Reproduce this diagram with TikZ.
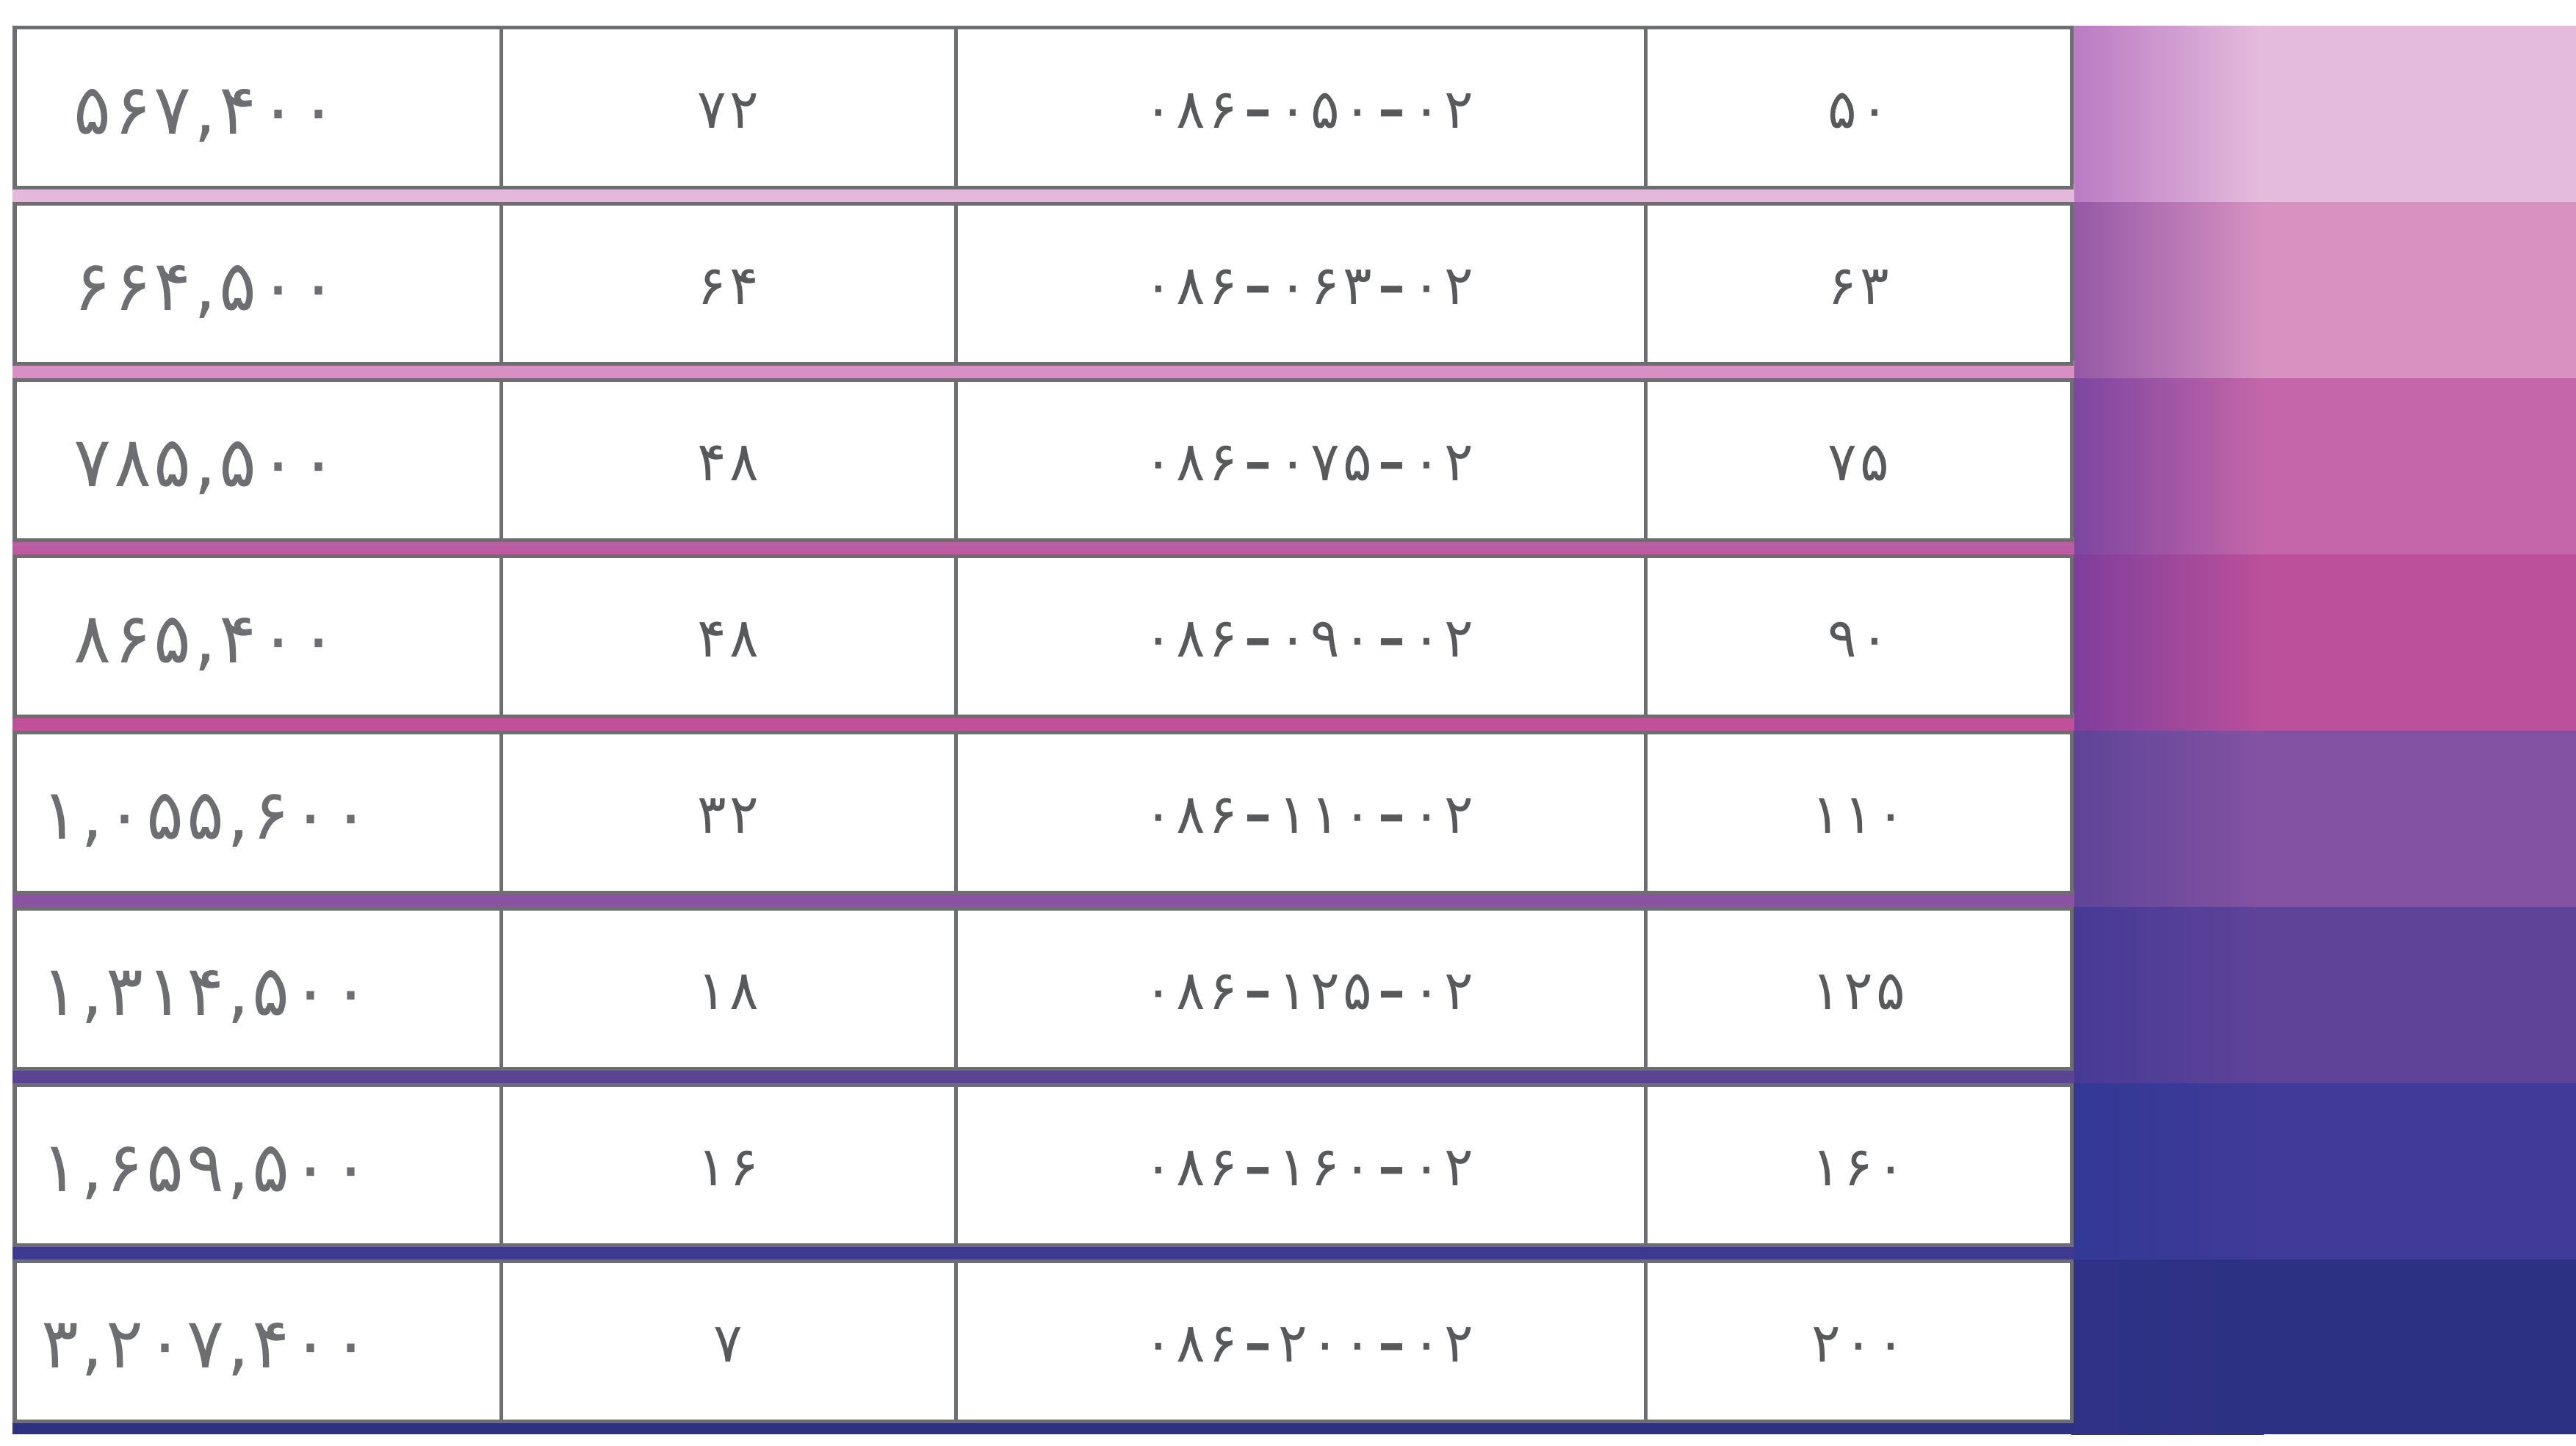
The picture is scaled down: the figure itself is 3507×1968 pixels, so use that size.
\documentclass[tikz,border=0pt]{standalone}
\usepackage{fontspec}
\newfontfamily\pfontwide[LetterSpace=4]{DejaVu Sans}
\newfontfamily\pfontmid[LetterSpace=6]{DejaVu Sans}
\definecolor{gridgray}{HTML}{6D6E71}
\definecolor{txtA}{HTML}{6D6E71}
\definecolor{txtB}{HTML}{58595B}
\definecolor{Ra}{HTML}{E5BBDD}\definecolor{La}{HTML}{B97AC2}\definecolor{Sa}{HTML}{E3B8DC}
\definecolor{Rb}{HTML}{D792C2}\definecolor{Lb}{HTML}{9458A6}\definecolor{Sb}{HTML}{D98FC4}
\definecolor{Rc}{HTML}{C466A9}\definecolor{Lc}{HTML}{7C46A0}\definecolor{Sc}{HTML}{BC5AA2}
\definecolor{Rd}{HTML}{BC509B}\definecolor{Ld}{HTML}{7E3E9C}\definecolor{Sd}{HTML}{C0509A}
\definecolor{Re}{HTML}{8452A2}\definecolor{Le}{HTML}{5E4498}\definecolor{Se}{HTML}{8A52A0}
\definecolor{Rf}{HTML}{5F4399}\definecolor{Lf}{HTML}{463A96}\definecolor{Sf}{HTML}{5B4396}
\definecolor{Rg}{HTML}{403A98}\definecolor{Lg}{HTML}{333896}\definecolor{Sg}{HTML}{3E3A92}
\definecolor{Rh}{HTML}{2D3183}\definecolor{Lh}{HTML}{2F3287}
\newcommand{\dsh}{\hspace{0.12em}{\bfseries –}\hspace{0.12em}}
\tikzset{
  rowbox/.style={draw=gridgray, line width=0.05cm, fill=white},
  colline/.style={draw=gridgray, line width=0.05cm},
  bigtxt/.style={font=\pfontwide\fontsize{27}{32}\selectfont, text=txtA, anchor=base, inner sep=0pt},
  smalltxt/.style={font=\pfontmid\fontsize{21}{25}\selectfont, text=txtB, anchor=base, inner sep=0pt}
}
\begin{document}
\begin{tikzpicture}[x=0.01cm,y=-0.01cm]
\useasboundingbox[fill=white] (0,0) rectangle (3507,1968);
% right colour band and stripes
\foreach \i/\l/\r/\s in {0/La/Ra/Sa,1/Lb/Rb/Sb,2/Lc/Rc/Sc,3/Ld/Rd/Sd,4/Le/Re/Se,5/Lf/Rf/Sf,6/Lg/Rg/Sg} {
  \pgfmathsetmacro\ya{35+240*\i}
  \pgfmathsetmacro\yb{35+240*(\i+1)}
  \pgfmathsetmacro\ys{\ya+216}
  \pgfmathsetmacro\yt{\ya+246}
  \shade[left color=\l, right color=\r] (2820,\ya) rectangle (3082,\yb);
  \fill[\r] (3080,\ya) rectangle (3507,\yb);
  \fill[\s] (17,\ys) rectangle (2824,\yt);
}
\shade[left color=Lh, right color=Rh] (2820,1715) rectangle (3082,1953);
\fill[Rh] (3080,1715) rectangle (3507,1953);
\fill[Rh] (17,1931) rectangle (2824,1953);
% white rows
\foreach \i in {0,...,7} {
  \pgfmathsetmacro\ya{37.5+240*\i}
  \pgfmathsetmacro\yb{255.5+240*\i}
  \draw[rowbox] (20,\ya) rectangle (2820,\yb);
  \draw[colline] (682,\ya) -- (682,\yb);
  \draw[colline] (1301,\ya) -- (1301,\yb);
  \draw[colline] (2240,\ya) -- (2240,\yb);
}
% texts
\node[bigtxt] (p0) at (280,182)  {۵۶۷,۴۰۰};
\node[bigtxt] (p1) at (280,422)  {۶۶۴,۵۰۰};
\node[bigtxt] (p2) at (280,662)  {۷۸۵,۵۰۰};
\node[bigtxt] (p3) at (280,902)  {۸۶۵,۴۰۰};
\node[bigtxt] (p4) at (280,1142) {۱,۰۵۵,۶۰۰};
\node[bigtxt] (p5) at (280,1382) {۱,۳۱۴,۵۰۰};
\node[bigtxt] (p6) at (280,1622) {۱,۶۵۹,۵۰۰};
\node[bigtxt] (p7) at (280,1862) {۳,۲۰۷,۴۰۰};
\foreach \i/\b/\c/\d in {0/۷۲/۰۵۰/۵۰, 1/۶۴/۰۶۳/۶۳, 2/۴۸/۰۷۵/۷۵, 3/۴۸/۰۹۰/۹۰,
  4/۳۲/۱۱۰/۱۱۰, 5/۱۸/۱۲۵/۱۲۵, 6/۱۶/۱۶۰/۱۶۰, 7/۷/۲۰۰/۲۰۰} {
  \pgfmathsetmacro\yB{146.5+240*\i+28}
  \node[smalltxt] (n\i) at (991,\yB) {\b};
  \node[smalltxt] (k\i) at (1782,\yB) {۰۸۶\dsh\c\dsh۰۲};
  \node[smalltxt] (s\i) at (2530,\yB) {\d};
}
\end{tikzpicture}
\end{document}
